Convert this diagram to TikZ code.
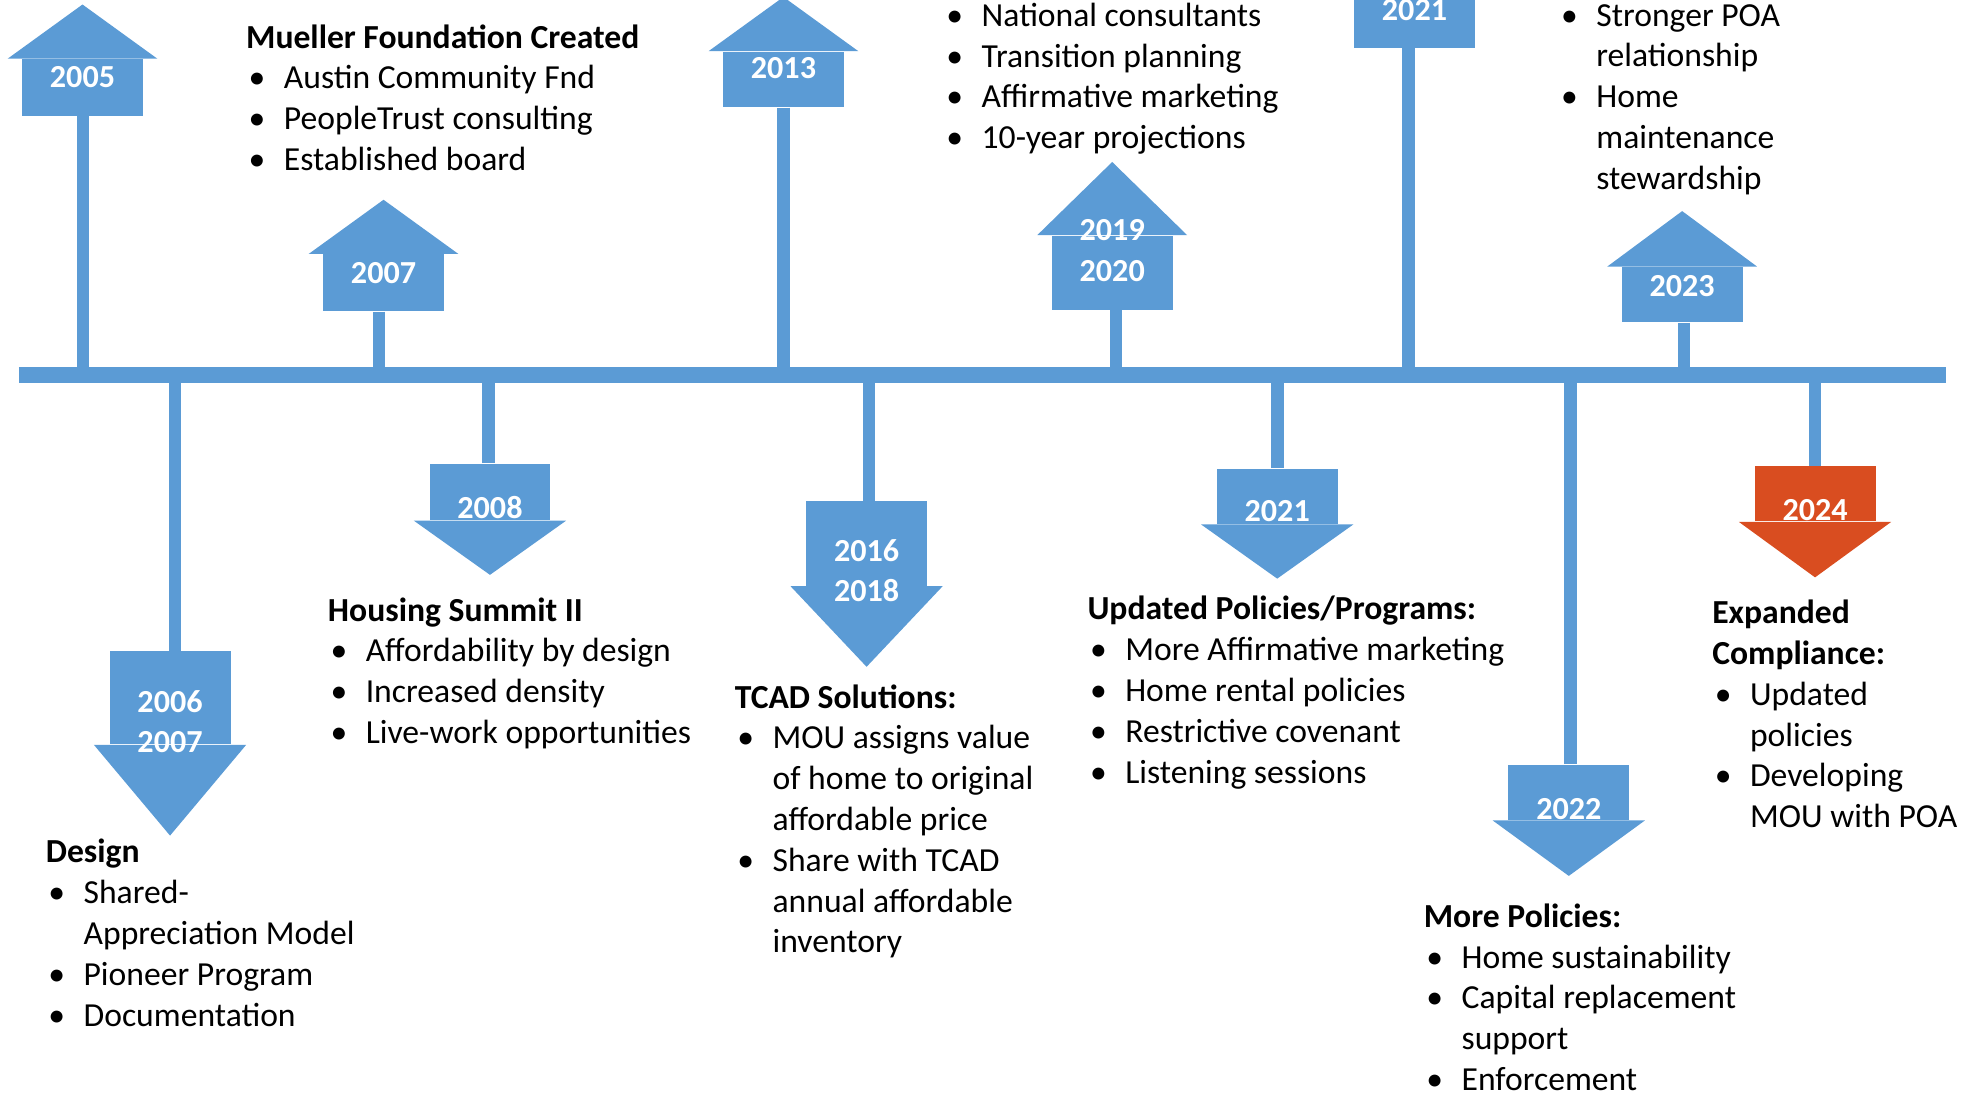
\documentclass[tikz,border=0pt]{standalone}
\usepackage{fontspec}
\setmainfont{Carlito}
\usepackage{tikz}
\usetikzlibrary{calc}
\definecolor{cYear}{HTML}{5B9BD5}
\definecolor{cNow}{HTML}{D94D20}
\newcommand\yrfont{\fontsize{12.75}{16}\selectfont\bfseries}
\newcommand\notefont{\fontsize{13.35}{16.2}\selectfont}
\newcommand\bl{\makebox[15pt][l]{\hspace*{1pt}\textbullet}}
\newcommand\ct{\hspace*{15pt}}
\tikzset{
  yrbox/.style={rectangle, fill=#1, inner sep=0pt, minimum width=48pt},
  yrbox/.default=cYear,
  yrtext/.style={text=white, font=\yrfont, align=center, inner sep=0pt},
  note/.style={anchor=north west, inner sep=0pt, align=left, font=\notefont},
  stem/.style={draw=cYear, line width=5pt},
  bar/.style={draw=cYear, line width=6.25pt},
}

\begin{document}
\begin{tikzpicture}[x=0.5pt, y=-0.5pt]
\useasboundingbox (0,0) rectangle (1568,870);
\clip (0,0) rectangle (1568,870);

% years above the line
\node[yrbox, minimum height=22.5pt] (u2005) at (65.5,69.5) {};
\node[yrbox, minimum height=22.5pt] (u2007) at (304.5,224.5) {};
\node[yrbox, minimum height=22pt] (u2013) at (622,63) {};
\node[yrbox, minimum height=29.5pt] (u2019) at (883,216.5) {};
\node[yrbox, minimum height=22pt] (u2021) at (1123,16) {};
\node[yrbox, minimum height=22pt] (u2023) at (1335.5,234) {};
\foreach \b/\r in {u2005/43,u2007/43,u2013/43,u2019/58,u2021/43,u2023/44}
  \fill[cYear] ($(\b.north west)+(-11,0)$) -- ($(\b.north)+(0,-\r)$) -- ($(\b.north east)+(11,0)$) -- cycle;

% years below the line
\node[yrbox, minimum height=37pt] (d2006) at (135,554) {};
\node[yrbox, minimum height=22.5pt] (d2008) at (389,390.5) {};
\node[yrbox, minimum height=33.5pt] (d2016) at (688,431.5) {};
\node[yrbox, minimum height=22pt] (d2021) at (1014,394) {};
\node[yrbox, minimum height=22pt] (d2022) at (1245.5,629) {};
\node[yrbox=cNow, minimum height=22pt] (d2024) at (1441,392) {};
\foreach \b/\r/\c in {d2006/72/cYear,d2008/43/cYear,d2016/64/cYear,d2021/43/cYear,d2022/44/cYear,d2024/44/cNow}
  \fill[\c] ($(\b.south west)+(-12,0)$) -- ($(\b.south)+(0,\r)$) -- ($(\b.south east)+(12,0)$) -- cycle;

% the time line
\coordinate (barL) at (15,298);
\coordinate (barR) at (1545,298);
\foreach \b/\dx in {u2005/0.5,u2007/-3.5,u2013/0,u2019/3,u2021/-5,u2023/1.5}
  \draw[stem] ([xshift=\dx*0.5pt]\b.south) -- ([xshift=\dx*0.5pt]\b.south |- barL);
\foreach \b/\dx in {d2006/4,d2008/-1,d2016/2,d2021/0,d2022/1.5,d2024/0}
  \draw[stem] ([xshift=\dx*0.5pt]\b.north) -- ([xshift=\dx*0.5pt]\b.north |- barL);
\draw[bar] (barL) -- (barR);

\node[yrtext] (t2005) at ([yshift=4.25pt]u2005.center) {2005};
\node[yrtext] (t2007) at ([yshift=3.75pt]u2007.center) {2007};
\node[yrtext] (t2013) at ([yshift=4.5pt]u2013.center) {2013};
\node[yrtext] (t2019) at ([yshift=8.75pt]u2019.center) {2019\\2020};
\node[yrtext] (t2021) at ([yshift=4pt]u2021.center) {2021};
\node[yrtext] (t2023) at ([yshift=3.5pt]u2023.center) {2023};
\node[yrtext] (t2006) at ([yshift=-9.5pt]d2006.center) {2006\\2007};
\node[yrtext] (t2008) at ([yshift=-6.25pt]d2008.center) {2008};
\node[yrtext] (t2016) at ([yshift=-10.75pt]d2016.center) {2016\\2018};
\node[yrtext] (t2021b) at ([yshift=-6pt]d2021.center) {2021};
\node[yrtext] (t2022) at ([yshift=-6.5pt]d2022.center) {2022};
\node[yrtext] (t2024) at ([yshift=-6.5pt]d2024.center) {2024};

% what happened
\node[note] (mueller) at (195,19) {\textbf{Mueller Foundation Created}\\ \bl Austin Community Fnd\\ \bl PeopleTrust consulting\\ \bl Established board};
\node[note] (consult) at (749,2) {\bl National consultants\\ \bl Transition planning\\ \bl Affirmative marketing\\ \bl 10-year projections};
\node[note] (poa) at (1237,3) {\bl Stronger POA\\ \ct relationship\\ \bl Home\\ \ct maintenance\\ \ct stewardship};
\node[note] (summit) at (260,474) {\textbf{Housing Summit II}\\ \bl Affordability by design\\ \bl Increased density\\ \bl Live-work opportunities};
\node[note] (design) at (36,666) {\textbf{Design}\\ \bl Shared-\\ \ct Appreciation Model\\ \bl Pioneer Program\\ \bl Documentation};
\node[note] (tcad) at (583,543) {\textbf{TCAD Solutions:}\\ \bl MOU assigns value\\ \ct of home to original\\ \ct affordable price\\ \bl Share with TCAD\\ \ct annual affordable\\ \ct inventory};
\node[note] (updated) at (863,473) {\textbf{Updated Policies/Programs:}\\ \bl More Affirmative marketing\\ \bl Home rental policies\\ \bl Restrictive covenant\\ \bl Listening sessions};
\node[note] (more) at (1130,717) {\textbf{More Policies:}\\ \bl Home sustainability\\ \bl Capital replacement\\ \ct support\\ \bl Enforcement};
\node[note] (expanded) at (1359,476) {\textbf{Expanded}\\ \textbf{Compliance:}\\ \bl Updated\\ \ct policies\\ \bl Developing\\ \ct MOU with POA};
\end{tikzpicture}
\end{document}
